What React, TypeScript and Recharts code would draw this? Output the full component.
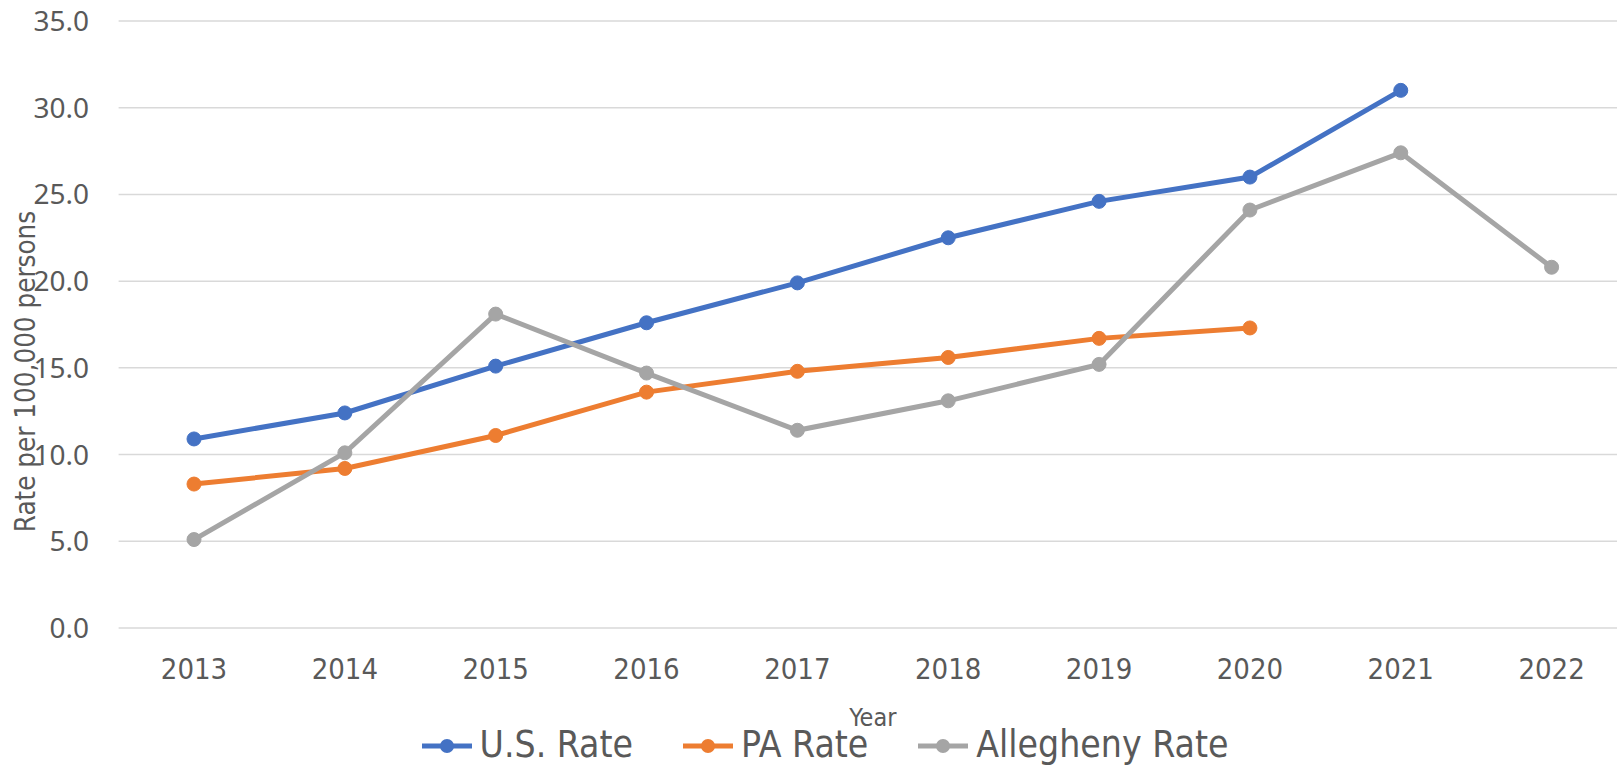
import React from 'react';
import { LineChart, Line, XAxis, YAxis, CartesianGrid, Legend } from 'recharts';

const years = ['2013', '2014', '2015', '2016', '2017', '2018', '2019', '2020', '2021', '2022'];
const usRate: (number | null)[] = [10.9, 12.4, 15.1, 17.6, 19.9, 22.5, 24.6, 26.0, 31.0, null];
const paRate: (number | null)[] = [8.3, 9.2, 11.1, 13.6, 14.8, 15.6, 16.7, 17.3, null, null];
const alleghenyRate: (number | null)[] = [5.1, 10.1, 18.1, 14.7, 11.4, 13.1, 15.2, 24.1, 27.4, 20.8];
const yTicks = [0, 5, 10, 15, 20, 25, 30, 35];

const series = [
  { key: 'us', name: 'U.S. Rate', color: '#4472C4', values: usRate },
  { key: 'pa', name: 'PA Rate', color: '#ED7D31', values: paRate },
  { key: 'al', name: 'Allegheny Rate', color: '#A5A5A5', values: alleghenyRate },
];

const data = years.map((y, i) => ({
  year: y,
  us: usRate[i],
  pa: paRate[i],
  al: alleghenyRate[i],
}));

const TEXT = '#595959';
const NARROW = '"DejaVu Sans Condensed", "Liberation Sans Narrow", "DejaVu Sans", sans-serif';

const LegendContent = () => (
  <div
    style={{
      display: 'flex',
      justifyContent: 'center',
      alignItems: 'center',
      height: 40,
      fontFamily: NARROW,
      fontSize: 37,
      lineHeight: '40px',
      color: TEXT,
      whiteSpace: 'nowrap',
    }}
  >
    {series.map((s, i) => (
      <div key={s.key} style={{ display: 'flex', alignItems: 'center', marginLeft: i === 0 ? 0 : 50 }}>
        <svg width={50} height={20} style={{ marginRight: 8, marginTop: 2 }}>
          <line x1={0} y1={10} x2={50} y2={10} stroke={s.color} strokeWidth={5} />
          <circle cx={25} cy={10} r={7} fill={s.color} />
        </svg>
        <span>{s.name}</span>
      </div>
    ))}
  </div>
);

const YTitle = (props: any) => {
  const vb = props.viewBox || { x: 0, y: 0, width: 0, height: 0 };
  const cx = 35;
  const cy = vb.y + vb.height / 2 + 47;
  return (
    <text
      x={cx}
      y={cy}
      transform={`rotate(-90, ${cx}, ${cy})`}
      textAnchor="middle"
      fill={TEXT}
      fontFamily={NARROW}
      fontSize={27.5}
    >
      Rate per 100,000 persons
    </text>
  );
};

const XTitle = (props: any) => {
  const vb = props.viewBox || { x: 0, y: 0, width: 0, height: 0 };
  const cx = vb.x + vb.width / 2;
  return (
    <text x={cx} y={726} textAnchor="middle" fill={TEXT} fontFamily={NARROW} fontSize={25}>
      Year
    </text>
  );
};

export default function App() {
  return (
    <div style={{ position: 'absolute', left: 0, top: 0, width: 1617, height: 766, overflow: 'hidden', background: '#fff' }}>
      <LineChart width={1627} height={766} data={data} margin={{ top: 21, right: 0, bottom: 0, left: 0 }}>
        <CartesianGrid horizontal vertical={false} stroke="#d9d9d9" strokeWidth={1.5} />
        <XAxis
          dataKey="year"
          height={138}
          padding={{ left: 75.4, right: 75.4 }}
          axisLine={false}
          tickLine={false}
          tickMargin={24}
          tick={{ fill: TEXT, fontFamily: NARROW, fontSize: 29 }}
          interval={0}
          label={<XTitle />}
        />
        <YAxis
          width={118.6}
          domain={[0, 35]}
          ticks={yTicks}
          interval={0}
          axisLine={false}
          tickLine={false}
          tickMargin={23.6}
          tickFormatter={(v: number) => v.toFixed(1)}
          tick={{ fill: TEXT, fontFamily: '"Noto Sans", sans-serif', fontSize: 28 }}
          label={<YTitle />}
        />
        <Legend
          layout="horizontal"
          verticalAlign="middle"
          align="center"
          content={<LegendContent />}
          wrapperStyle={{ position: 'absolute', top: 725, left: 0, width: 1650, height: 40 }}
        />
        {series.map((s) => (
          <Line
            key={s.key}
            dataKey={s.key}
            name={s.name}
            type="linear"
            stroke={s.color}
            strokeWidth={5}
            dot={{ r: 7, fill: s.color, stroke: s.color, strokeWidth: 1 }}
            activeDot={false}
            connectNulls={false}
            isAnimationActive={false}
          />
        ))}
      </LineChart>
    </div>
  );
}
